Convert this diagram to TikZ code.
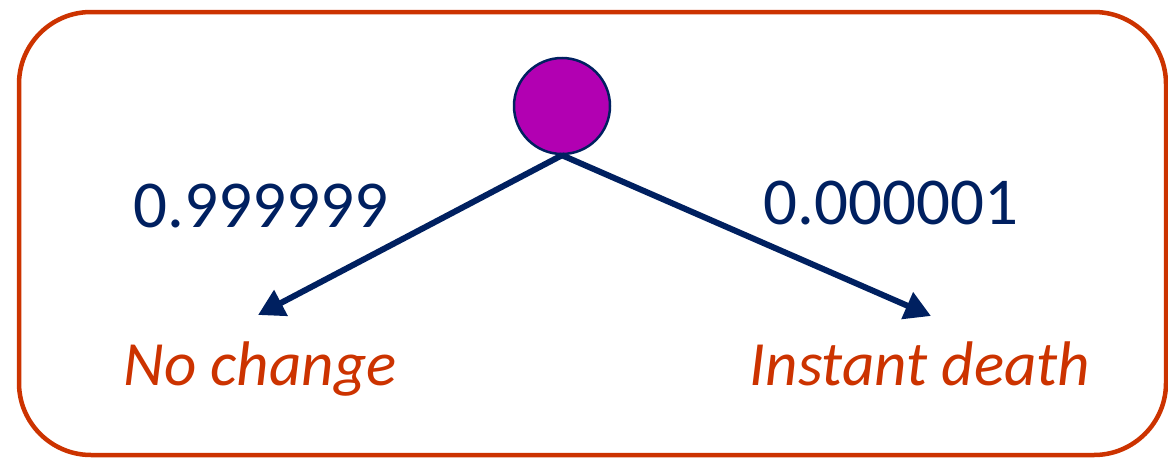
\documentclass[tikz,border=0pt]{standalone}
\usepackage{fontspec}
\setmainfont{Carlito}
\usetikzlibrary{arrows.meta}
\definecolor{navy}{RGB}{0,32,96}
\definecolor{rust}{RGB}{204,51,0}
\definecolor{plum}{RGB}{178,0,178}
\begin{document}
\begin{tikzpicture}[x=1pt,y=-1pt,
  prob/.style={text=navy,font=\fontsize{67}{70}\selectfont,inner sep=0pt},
  outcome/.style={text=rust,font=\fontsize{63}{66}\selectfont\itshape,inner sep=0pt,anchor=base},
  branch/.style={draw=navy,line width=6pt,-{Triangle[length=26pt,width=28pt]}}]
\useasboundingbox (0,0) rectangle (1168,458);
\draw[rust,line width=4.5pt,rounded corners=72pt] (19,12) rectangle (1166,455);
\node[circle,fill=plum,draw=navy,line width=2.5pt,minimum size=96pt,inner sep=0pt] (root) at (562,106) {};
\coordinate (l) at (258,315);
\coordinate (r) at (931,316);
\draw[branch] (root.south) -- (l);
\draw[branch] (root.south) -- (r);
\node[prob] (p1) at (261,206) {0.999999};
\node[prob] (p2) at (891,203) {0.000001};
\node[outcome] (o1) at (260,385) {No change};
\node[outcome] (o2) at (920,385) {Instant death};
\end{tikzpicture}
\end{document}
